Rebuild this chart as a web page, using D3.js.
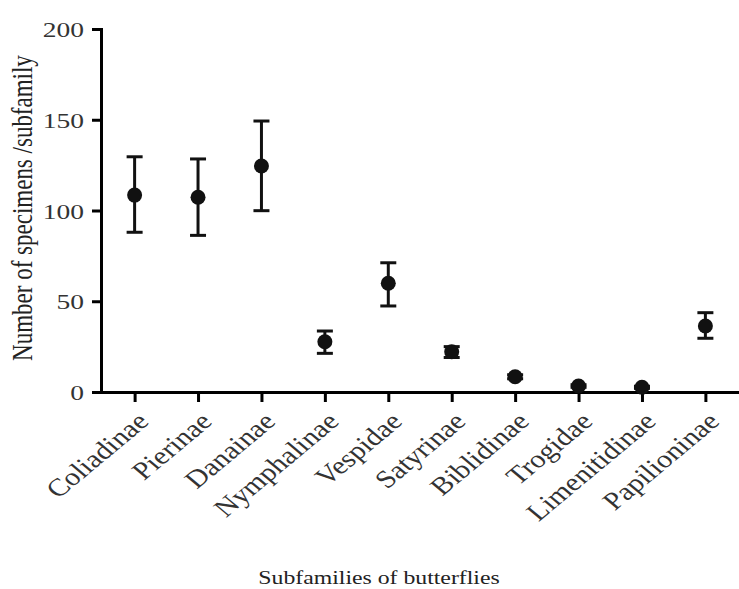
<!DOCTYPE html>
<html>
<head>
<meta charset="utf-8">
<script src="https://cdn.jsdelivr.net/npm/d3@7"></script>
<style>
  body { margin: 0; background: #fff; }
  svg { display: block; }
  text { font-family: "Liberation Serif", "DejaVu Serif", serif; }
</style>
</head>
<body>
<div id="chart"></div>
<script>
const categories = ["Coliadinae", "Pierinae", "Danainae", "Nymphalinae", "Vespidae",
  "Satyrinae", "Biblidinae", "Trogidae", "Limenitidinae", "Papilioninae"];
const means = [108.5, 107.3, 124.5, 27.7, 59.9, 22.2, 8.4, 3.3, 2.6, 36.4];
const upper = [129.6, 128.4, 149.3, 33.6, 71.2, 25.0, 9.5, 4.0, 3.2, 43.7];
const lower = [88.0, 86.3, 99.9, 21.3, 47.4, 19.0, 7.3, 2.6, 2.0, 29.6];
const yTicks = [0, 50, 100, 150, 200];

const width = 739;
const height = 589;
const stretch = 1.2; // the picture is a bit wider than tall

const svg = d3.select("#chart").append("svg")
  .attr("width", width)
  .attr("height", height);

svg.append("rect").attr("width", width).attr("height", height).attr("fill", "#fff");

const x = d3.scalePoint()
  .domain(categories)
  .range([101, 739])
  .padding(0.53);

const y = d3.scaleLinear()
  .domain([0, 200])
  .range([392, 29]);

// y axis
const yAxis = svg.append("g")
  .attr("transform", "translate(101,0)")
  .call(d3.axisLeft(y).tickValues(yTicks).tickSize(9).tickPadding(8));
yAxis.select(".domain").attr("stroke", "#000").attr("stroke-width", 3);
yAxis.selectAll(".tick line").attr("stroke", "#000").attr("stroke-width", 3);
yAxis.selectAll(".tick text")
  .attr("font-size", 22)
  .attr("fill", "#333")
  .attr("x", 0)
  .attr("dy", "0.35em")
  .attr("transform", `translate(-17,0) scale(1.25,1)`);

// x axis
const xAxis = svg.append("g")
  .attr("transform", "translate(0,392)")
  .call(d3.axisBottom(x).tickSize(10).tickSizeOuter(0));
xAxis.select(".domain").attr("stroke", "#000").attr("stroke-width", 3);
xAxis.selectAll(".tick line").attr("stroke", "#000").attr("stroke-width", 3);
xAxis.selectAll(".tick text")
  .attr("font-size", 25)
  .attr("fill", "#333")
  .attr("text-anchor", "end")
  .attr("x", 0)
  .attr("y", 0)
  .attr("dy", 0)
  .attr("transform", `translate(15,31) scale(${stretch},1) rotate(-45)`);

// error bars
const capW = 8;
const bars = svg.append("g").selectAll("g")
  .data(categories)
  .join("g");

bars.append("line")
  .attr("x1", d => x(d)).attr("x2", d => x(d))
  .attr("y1", (d, i) => y(upper[i]))
  .attr("y2", (d, i) => y(lower[i]))
  .attr("stroke", "#111").attr("stroke-width", 3);

bars.append("line")
  .attr("x1", d => x(d) - capW).attr("x2", d => x(d) + capW)
  .attr("y1", (d, i) => y(upper[i])).attr("y2", (d, i) => y(upper[i]))
  .attr("stroke", "#111").attr("stroke-width", 3);

bars.append("line")
  .attr("x1", d => x(d) - capW).attr("x2", d => x(d) + capW)
  .attr("y1", (d, i) => y(lower[i])).attr("y2", (d, i) => y(lower[i]))
  .attr("stroke", "#111").attr("stroke-width", 3);

bars.append("circle")
  .attr("cx", d => x(d))
  .attr("cy", (d, i) => y(means[i]))
  .attr("r", 7.5)
  .attr("fill", "#111");

// axis titles
svg.append("text")
  .attr("transform", `translate(32,208) scale(1.25,1) rotate(-90)`)
  .attr("text-anchor", "middle")
  .attr("font-size", 23)
  .attr("fill", "#222")
  .text("Number of specimens /subfamily");

svg.append("text")
  .attr("transform", `translate(379,584) scale(1.25,1)`)
  .attr("text-anchor", "middle")
  .attr("font-size", 19)
  .attr("fill", "#222")
  .text("Subfamilies of butterflies");
</script>
</body>
</html>
